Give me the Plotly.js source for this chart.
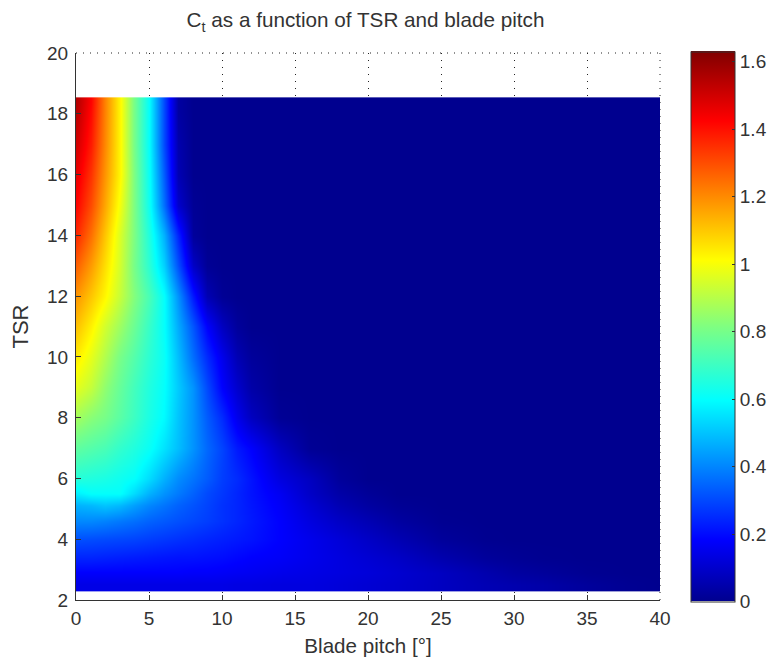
<!DOCTYPE html>
<html>
<head>
<meta charset="utf-8">
<script src="https://cdn.plot.ly/plotly-3.0.1.min.js"></script>
<style>html,body{margin:0;padding:0;background:#fff}</style>
</head>
<body>
<div id="chart" style="width:771px;height:662px"></div>
<script>
var pitch = [0,1,2,3,4,5,6,7,8,9,10,11,12,14,16,18,20,22,25,28,30,32,35,38,40];
var tsr = [2.5,2.9,3.4,4,4.6,5.1,5.5,6,7,8,9,10,11,12,13,14,15,16,17,18.12,18.4];
var row02_5 = [.14,.14,.14,.14,.14,.14,.14,.14,.14,.14,.14,.135,.135,.13,.13,.12,.11,.10,.08,.06,.05,.04,.02,.005,0];
var row02_9 = [.18,.18,.18,.18,.18,.18,.18,.18,.175,.175,.17,.165,.16,.15,.14,.13,.12,.105,.08,.05,.03,.02,.005,0,0];
var row03_4 = [.24,.24,.235,.23,.225,.22,.215,.21,.21,.205,.20,.19,.18,.17,.15,.13,.11,.09,.05,.02,.01,.003,0,0,0];
var row04_0 = [.31,.305,.30,.295,.29,.28,.27,.26,.25,.24,.23,.22,.21,.18,.15,.12,.09,.06,.02,.003,0,0,0,0,0];
var row04_6 = [.40,.40,.39,.375,.36,.34,.325,.31,.295,.28,.26,.24,.22,.18,.13,.09,.06,.03,.005,0,0,0,0,0,0];
var row05_1 = [.47,.48,.50,.48,.44,.40,.37,.34,.315,.29,.26,.24,.215,.17,.11,.06,.03,.01,0,0,0,0,0,0,0];
var row05_5 = [.57,.60,.60,.60,.54,.47,.42,.38,.34,.30,.27,.24,.21,.16,.09,.04,.015,0,0,0,0,0,0,0,0];
var row06_0 = [.66,.65,.64,.62,.60,.54,.47,.41,.37,.33,.28,.25,.21,.13,.08,.02,0,0,0,0,0,0,0,0,0];
var row07_0 = [.76,.74,.72,.68,.65,.61,.55,.49,.42,.35,.29,.22,.18,.08,.01,0,0,0,0,0,0,0,0,0,0];
var row08_0 = [.87,.83,.80,.75,.70,.64,.59,.50,.42,.33,.25,.15,.08,.01,0,0,0,0,0,0,0,0,0,0,0];
var row09_0 = [.97,.92,.84,.77,.71,.65,.60,.51,.42,.30,.18,.10,.04,0,0,0,0,0,0,0,0,0,0,0,0];
var row10_0 = [1.04,.97,.89,.80,.74,.67,.61,.49,.36,.25,.15,.06,.02,0,0,0,0,0,0,0,0,0,0,0,0];
var row11_0 = [1.11,1.03,.94,.86,.78,.69,.60,.46,.32,.18,.08,.02,0,0,0,0,0,0,0,0,0,0,0,0,0];
var row12_0 = [1.18,1.10,1.02,.92,.82,.72,.60,.42,.22,.06,.01,0,0,0,0,0,0,0,0,0,0,0,0,0,0];
var row13_0 = [1.27,1.17,1.06,.94,.80,.67,.52,.31,.09,.01,0,0,0,0,0,0,0,0,0,0,0,0,0,0,0];
var row14_0 = [1.36,1.24,1.10,.95,.81,.65,.47,.24,.02,0,0,0,0,0,0,0,0,0,0,0,0,0,0,0,0];
var row15_0 = [1.42,1.30,1.15,.99,.81,.62,.36,.10,.01,0,0,0,0,0,0,0,0,0,0,0,0,0,0,0,0];
var row16_0 = [1.46,1.34,1.18,1.02,.81,.61,.33,.06,0,0,0,0,0,0,0,0,0,0,0,0,0,0,0,0,0];
var row17_0 = [1.50,1.38,1.20,1.02,.80,.60,.30,.05,0,0,0,0,0,0,0,0,0,0,0,0,0,0,0,0,0];
var row18_1 = [1.54,1.41,1.21,1.02,.80,.60,.30,.03,0,0,0,0,0,0,0,0,0,0,0,0,0,0,0,0,0];
var row18_4 = [1.55,1.42,1.21,1.02,.80,.60,.30,.03,0,0,0,0,0,0,0,0,0,0,0,0,0,0,0,0,0];
var ct = [row02_5,row02_9,row03_4,row04_0,row04_6,row05_1,row05_5,row06_0,row07_0,row08_0,row09_0,row10_0,row11_0,row12_0,row13_0,row14_0,row15_0,row16_0,row17_0,row18_1,row18_4];

var xTicks = [0,5,10,15,20,25,30,35,40];
var yTicks = [2,4,6,8,10,12,14,16,18,20];
var barTicks = [0,0.2,0.4,0.6,0.8,1,1.2,1.4,1.6];
var barLabels = ['0','0.2','0.4','0.6','0.8','1','1.2','1.4','1.6'];
var jet = [[0,'#00008f'],[0.111,'#0000ff'],[0.365,'#00ffff'],[0.5,'#80ff80'],[0.619,'#ffff00'],[0.873,'#ff0000'],[1,'#800000']];

var font = 'Liberation Sans, Arial, sans-serif';
var ink = '#333333';
var dots = '1px,6px';
var axisCommon = {
  showline:true, linecolor:ink, linewidth:1, ticks:'inside', ticklen:5, tickcolor:ink, tickwidth:1,
  tickfont:{family:font,size:19,color:ink},
  showgrid:true, gridcolor:'#222222', griddash:dots, gridwidth:1, zeroline:false
};
var data = [{
  type:'heatmap', x:pitch, y:tsr, z:ct, zmin:0, zmax:1.63, zsmooth:'best', colorscale:jet,
  colorbar:{
    x:1.053, xanchor:'left', y:0.5, yanchor:'middle', len:1.006, lenmode:'fraction', thickness:44, thicknessmode:'pixels',
    xpad:0, ypad:0, outlinecolor:ink, outlinewidth:1, borderwidth:0,
    tickmode:'array', tickvals:barTicks, ticktext:barLabels, ticks:'inside', ticklen:3, tickcolor:ink,
    tickfont:{family:font,size:19,color:ink}
  }
}];
var layout = {
  width:771, height:662, paper_bgcolor:'#ffffff', plot_bgcolor:'#ffffff',
  margin:{l:75.5,r:111,t:53,b:62,pad:0,autoexpand:false},
  title:{text:'C<sub>t</sub> as a function of TSR and blade pitch', font:{family:font,size:20.7,color:ink}, x:365.5/771, xanchor:'center', y:1-20/662, yanchor:'middle'},
  xaxis:Object.assign({}, axisCommon, {range:[0,40], tickmode:'array', tickvals:xTicks, ticklabelstandoff:1,
    title:{text:'Blade pitch [°]', font:{family:font,size:20.6,color:ink}, standoff:10}}),
  yaxis:Object.assign({}, axisCommon, {range:[2,20], tickmode:'array', tickvals:yTicks, ticklabelstandoff:3,
    title:{text:'TSR', font:{family:font,size:22,color:ink}, standoff:12}}),
  shapes:[
    {type:'line', xref:'paper', yref:'paper', x0:0, x1:1, y0:1, y1:1, layer:'below', line:{color:'#222222', width:1, dash:dots}},
    {type:'line', xref:'paper', yref:'paper', x0:1, x1:1, y0:0, y1:1, layer:'below', line:{color:'#222222', width:1, dash:dots}}
  ]
};
Plotly.newPlot('chart', data, layout, {displayModeBar:false, staticPlot:true});
</script>
</body>
</html>
